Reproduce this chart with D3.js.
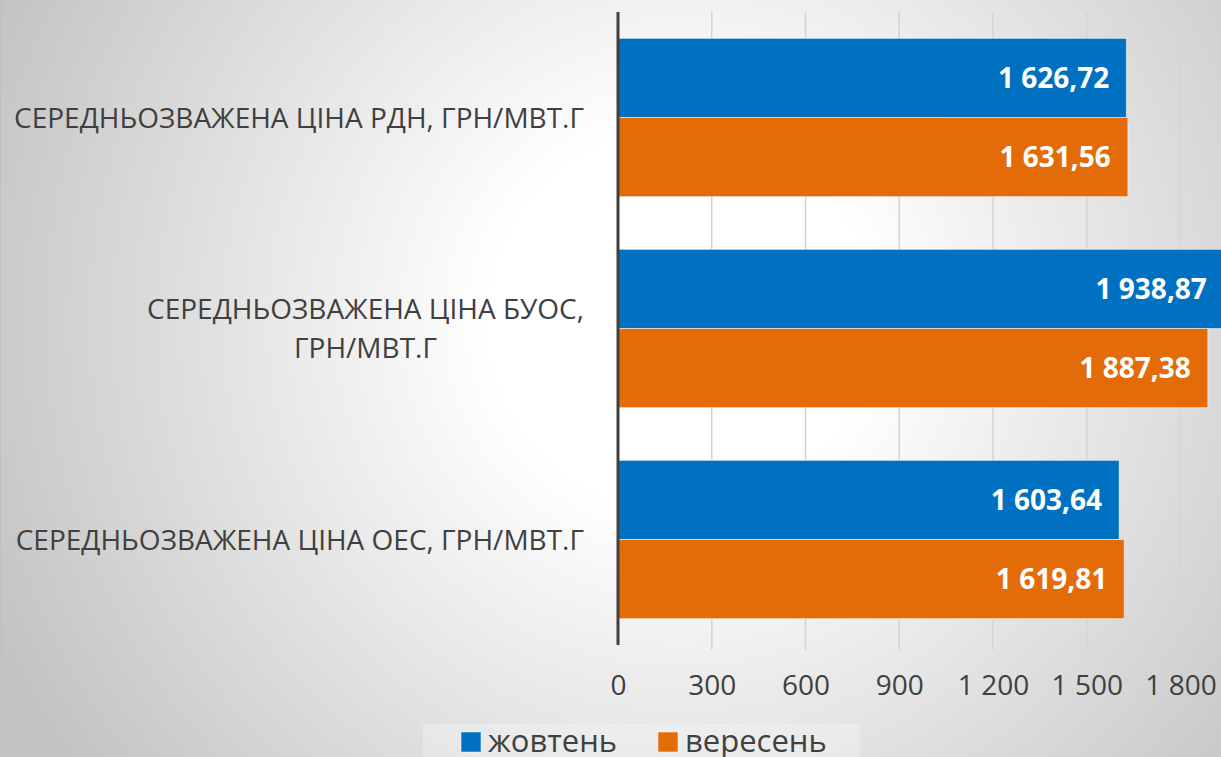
<!DOCTYPE html>
<html>
<head>
<meta charset="utf-8">
<script src="https://cdn.jsdelivr.net/npm/d3@7"></script>
<style>
  html, body { margin: 0; padding: 0; overflow: hidden; }
  svg { display: block; }
</style>
</head>
<body>
<div class="barchart"></div>
<script>
// data
var categories = [
  ["СЕРЕДНЬОЗВАЖЕНА ЦІНА РДН, ГРН/МВТ.Г"],
  ["СЕРЕДНЬОЗВАЖЕНА ЦІНА БУОС,", "ГРН/МВТ.Г"],
  ["СЕРЕДНЬОЗВАЖЕНА ЦІНА ОЕС, ГРН/МВТ.Г"]
];
var seriesNames = ["жовтень", "вересень"];
var october = [1626.72, 1938.87, 1603.64];
var september = [1631.56, 1887.38, 1619.81];
var tickValues = [0, 300, 600, 900, 1200, 1500, 1800];
var colors = ["#0070C0", "#E36C09"];

var W = 1221, H = 757;
var font = "'Open Sans', 'Noto Sans', sans-serif";

var svg = d3.select(".barchart").append("svg")
  .attr("width", W)
  .attr("height", H);

// background: soft radial gradient like the office chart
var defs = svg.append("defs");
var grad = defs.append("radialGradient")
  .attr("id", "bg")
  .attr("gradientUnits", "userSpaceOnUse")
  .attr("cx", 680).attr("cy", 320).attr("r", 760);
grad.append("stop").attr("offset", "0").attr("stop-color", "#ffffff");
grad.append("stop").attr("offset", "0.25").attr("stop-color", "#ffffff");
grad.append("stop").attr("offset", "1").attr("stop-color", "#c2c2c2");

svg.append("rect")
  .attr("width", W).attr("height", H)
  .attr("fill", "url(#bg)");
svg.append("line")
  .attr("x1", 0.5).attr("x2", 0.5).attr("y1", 0).attr("y2", H)
  .attr("stroke", "#bfbfbf");

var x = d3.scaleLinear().domain([0, 1950]).range([618, 618 + 1950 * 93.75 / 300]);
var idx = d3.range(categories.length);
var y = d3.scaleBand().domain(idx).range([12, 645]).paddingInner(0.25).paddingOuter(0.125);
var ySub = d3.scaleBand().domain([0, 1]).range([0, y.bandwidth()]);

// gridlines
svg.append("g")
  .selectAll("line")
  .data(tickValues.slice(1))
  .enter().append("line")
  .attr("x1", function(d) { return x(d); })
  .attr("x2", function(d) { return x(d); })
  .attr("y1", 12).attr("y2", 650)
  .attr("stroke", "#d4d4d4")
  .attr("stroke-width", 1.5);

// bars
var rows = idx.map(function(i) { return [october[i], september[i]]; });
var groups = svg.append("g").selectAll("g")
  .data(rows)
  .enter().append("g")
  .attr("transform", function(d, i) { return "translate(0," + y(i) + ")"; });

groups.selectAll("rect")
  .data(function(d) { return d; })
  .enter().append("rect")
  .attr("x", x(0))
  .attr("y", function(d, j) { return ySub(j); })
  .attr("width", function(d) { return x(d) - x(0); })
  .attr("height", ySub.bandwidth())
  .attr("fill", function(d, j) { return colors[j]; })
  .attr("stroke", "rgba(255,255,255,0.5)")
  .attr("stroke-width", 1);

var fmt = function(v) {
  return d3.format(",.2f")(v).replace(/,/g, " ").replace(".", ",");
};

groups.selectAll("text")
  .data(function(d) { return d; })
  .enter().append("text")
  .attr("x", function(d) { return x(d) - 17; })
  .attr("y", function(d, j) { return ySub(j) + ySub.bandwidth() / 2; })
  .attr("dy", "0.36em")
  .attr("text-anchor", "end")
  .attr("fill", "#ffffff")
  .style("font-family", font)
  .style("font-weight", "bold")
  .style("font-size", "28px")
  .text(function(d) { return fmt(d); });

// value axis
var xAxis = d3.axisBottom(x)
  .tickValues(tickValues)
  .tickSize(0)
  .tickPadding(30)
  .tickFormat(function(d) { return d3.format(",")(d).replace(/,/g, " "); });

var xg = svg.append("g")
  .attr("transform", "translate(0,645)")
  .call(xAxis);
xg.select(".domain").remove();
xg.selectAll("text")
  .attr("fill", "#404040")
  .style("font-family", font)
  .style("font-size", "28px");

// category axis line
svg.append("line")
  .attr("x1", x(0)).attr("x2", x(0))
  .attr("y1", 12).attr("y2", 645)
  .attr("stroke", "#404040")
  .attr("stroke-width", 3);

// category labels, centred block, right-aligned to the axis
var labels = svg.append("g").selectAll("text")
  .data(categories)
  .enter().append("text")
  .attr("fill", "#404040")
  .style("font-family", font)
  .style("font-size", "28px")
  .attr("text-anchor", "middle");

labels.each(function(lines, i) {
  var t = d3.select(this);
  var cy = y(i) + y.bandwidth() / 2;
  var lh = 39;
  lines.forEach(function(l, k) {
    t.append("tspan")
      .attr("y", cy + (k - (lines.length - 1) / 2) * lh)
      .attr("dy", "0.36em")
      .text(l);
  });
  var wMax = d3.max(t.selectAll("tspan").nodes(), function(n) { return n.getComputedTextLength(); });
  t.selectAll("tspan").attr("x", 584 - wMax / 2);
});

// legend
var lg = svg.append("g");
lg.append("rect")
  .attr("x", 423).attr("y", 724)
  .attr("width", 437).attr("height", 40)
  .attr("fill", "rgba(255,255,255,0.25)");

var legendX = [461, 658];
seriesNames.forEach(function(name, i) {
  lg.append("rect")
    .attr("x", legendX[i]).attr("y", 732)
    .attr("width", 20).attr("height", 20)
    .attr("fill", colors[i])
    .attr("stroke", "rgba(255,255,255,0.5)");
  lg.append("text")
    .attr("x", legendX[i] + 27).attr("y", 741)
    .attr("dy", "0.36em")
    .attr("fill", "#404040")
    .style("font-family", font)
    .style("font-size", "31px")
    .text(name);
});
</script>
</body>
</html>
